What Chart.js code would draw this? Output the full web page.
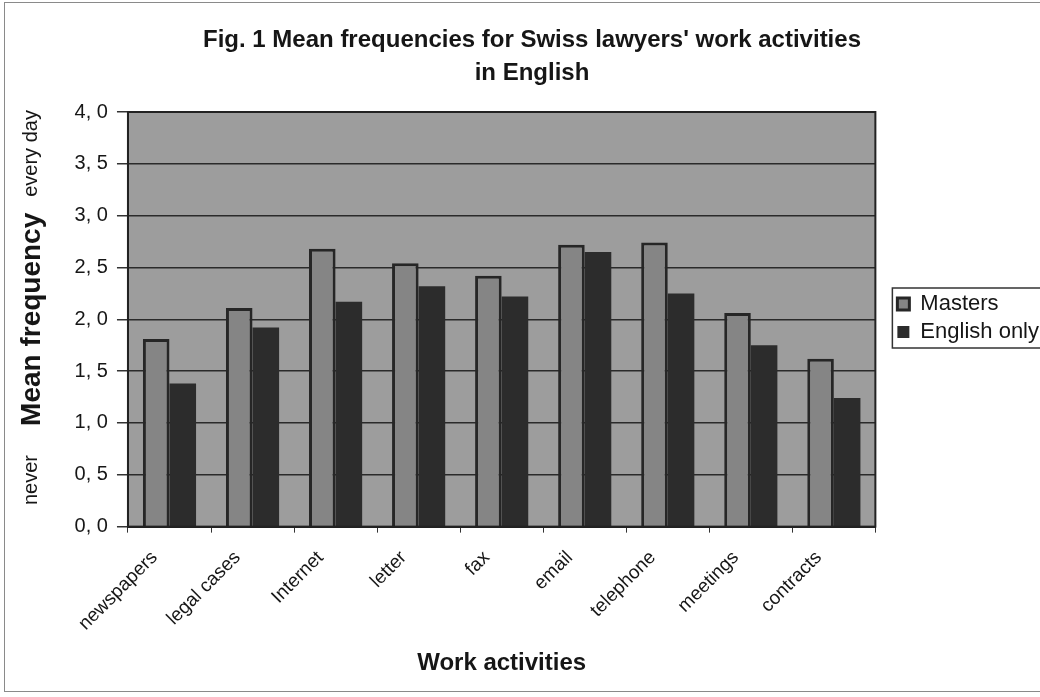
<!DOCTYPE html>
<html>
<head>
<meta charset="utf-8">
<script src="https://cdn.jsdelivr.net/npm/chart.js@4.4.1/dist/chart.umd.min.js"></script>
<style>
  html, body { margin: 0; padding: 0; background: #fff; }
  #wrap { position: relative; width: 1040px; height: 697px; }
</style>
</head>
<body>
<div id="wrap"><canvas id="chart" width="1040" height="697"></canvas></div>
<script>
const categories = ['newspapers', 'legal cases', 'Internet', 'letter', 'fax', 'email', 'telephone', 'meetings', 'contracts']
const masters = [1.81, 2.11, 2.68, 2.54, 2.42, 2.72, 2.74, 2.06, 1.62]
const englishOnly = [1.38, 1.92, 2.17, 2.32, 2.22, 2.65, 2.25, 1.75, 1.24]
const sideLabels = ['every day', 'never']
const sideLabelValues = [3.6, 0.45]

Chart.defaults.font.family = "'Liberation Sans', Arial, sans-serif"
Chart.defaults.color = '#161616'

const yTitleSize = 28

// plot background, frame, legend box and the left side notes
const plotFrame = {
  id: 'plotFrame',
  afterLayout(chart) {
    // legend sits a bit above the middle in the original
    const lg = chart.legend
    lg.top -= 31
    lg.bottom -= 31
  },
  beforeDraw(chart) {
    const { ctx, chartArea: a } = chart
    ctx.save()
    ctx.fillStyle = '#9d9d9d'
    ctx.fillRect(a.left, a.top, a.right - a.left, a.bottom - a.top)
    ctx.restore()
  },
  afterDraw(chart) {
    const { ctx, chartArea: a } = chart
    ctx.save()
    ctx.strokeStyle = '#222'
    ctx.lineWidth = 2
    ctx.strokeRect(a.left, a.top, a.right - a.left, a.bottom - a.top)

    // legend frame
    const lg = chart.legend
    const boxes = lg.legendHitBoxes
    if (boxes && boxes.length) {
      const first = boxes[0]
      const last = boxes[boxes.length - 1]
      ctx.lineWidth = 1.5
      ctx.strokeStyle = '#333'
      const top = first.top - 5
      const bottom = last.top + last.height + 5
      ctx.strokeRect(lg.left + 1, top, 1060 - lg.left, bottom - top)
    }

    // "every day" / "never"
    const y = chart.scales.y
    const x = y.left + yTitleSize * 1.2 / 2
    ctx.fillStyle = '#161616'
    ctx.font = "20px 'Liberation Sans', Arial, sans-serif"
    ctx.textAlign = 'center'
    ctx.textBaseline = 'middle'
    sideLabels.forEach((t, i) => {
      ctx.save()
      ctx.translate(x, y.getPixelForValue(sideLabelValues[i]))
      ctx.rotate(-Math.PI / 2)
      ctx.fillText(t, 0, 0)
      ctx.restore()
    })

    // outer frame
    ctx.strokeStyle = '#8a8a8a'
    ctx.lineWidth = 1
    ctx.strokeRect(4.5, 2.5, 1040, 689)
    ctx.restore()
  }
}

const chart = new Chart(document.getElementById('chart'), {
  type: 'bar',
  data: {
    labels: categories,
    datasets: [
      {
        label: 'Masters',
        data: masters,
        backgroundColor: '#858585',
        borderColor: '#262626',
        borderWidth: 3,
        categoryPercentage: 0.64,
        barPercentage: 1.0
      },
      {
        label: 'English only',
        data: englishOnly,
        backgroundColor: '#2c2c2c',
        borderColor: '#2c2c2c',
        borderWidth: 0,
        categoryPercentage: 0.64,
        barPercentage: 1.0
      }
    ]
  },
  options: {
    responsive: false,
    animation: false,
    layout: {
      padding: { left: 15, right: -9, top: 20, bottom: 19 }
    },
    plugins: {
      title: {
        display: true,
        text: ["Fig. 1 Mean frequencies for Swiss lawyers' work activities", 'in English'],
        font: { size: 24, weight: 'bold', lineHeight: 1.375 },
        color: '#161616',
        padding: { top: 4, bottom: 22 }
      },
      legend: {
        position: 'right',
        labels: {
          boxWidth: 12,
          boxHeight: 12,
          padding: 6,
          font: { size: 22 },
          color: '#161616'
        }
      },
      tooltip: { enabled: false }
    },
    scales: {
      x: {
        grid: {
          drawOnChartArea: false,
          tickLength: 6,
          color: '#333',
          offset: true
        },
        border: { color: '#222', width: 2 },
        ticks: {
          maxRotation: 45,
          minRotation: 45,
          autoSkip: false,
          padding: 14,
          labelOffset: -15,
          font: { size: 19 },
          color: '#161616'
        },
        title: {
          display: true,
          text: 'Work activities',
          font: { size: 24, weight: 'bold' },
          color: '#161616',
          padding: { top: 0, bottom: 0 }
        }
      },
      y: {
        min: 0,
        max: 4,
        ticks: {
          stepSize: 0.5,
          padding: 9,
          font: { size: 20 },
          color: '#161616',
          callback: v => v.toFixed(1).replace('.', ', ')
        },
        grid: {
          color: '#2a2a2a',
          lineWidth: 1.5,
          tickLength: 11,
          tickColor: '#333'
        },
        border: { color: '#222', width: 2 },
        title: {
          display: true,
          text: 'Mean frequency',
          font: { size: yTitleSize, weight: 'bold' },
          color: '#161616',
          padding: { top: 0, bottom: 17 }
        }
      },
      gap: {
        type: 'linear',
        position: 'right',
        display: true,
        grid: { display: false },
        border: { display: false },
        ticks: { display: false },
        afterFit(axis) { axis.width = 16 }
      }
    }
  },
  plugins: [plotFrame]
})
</script>
</body>
</html>
